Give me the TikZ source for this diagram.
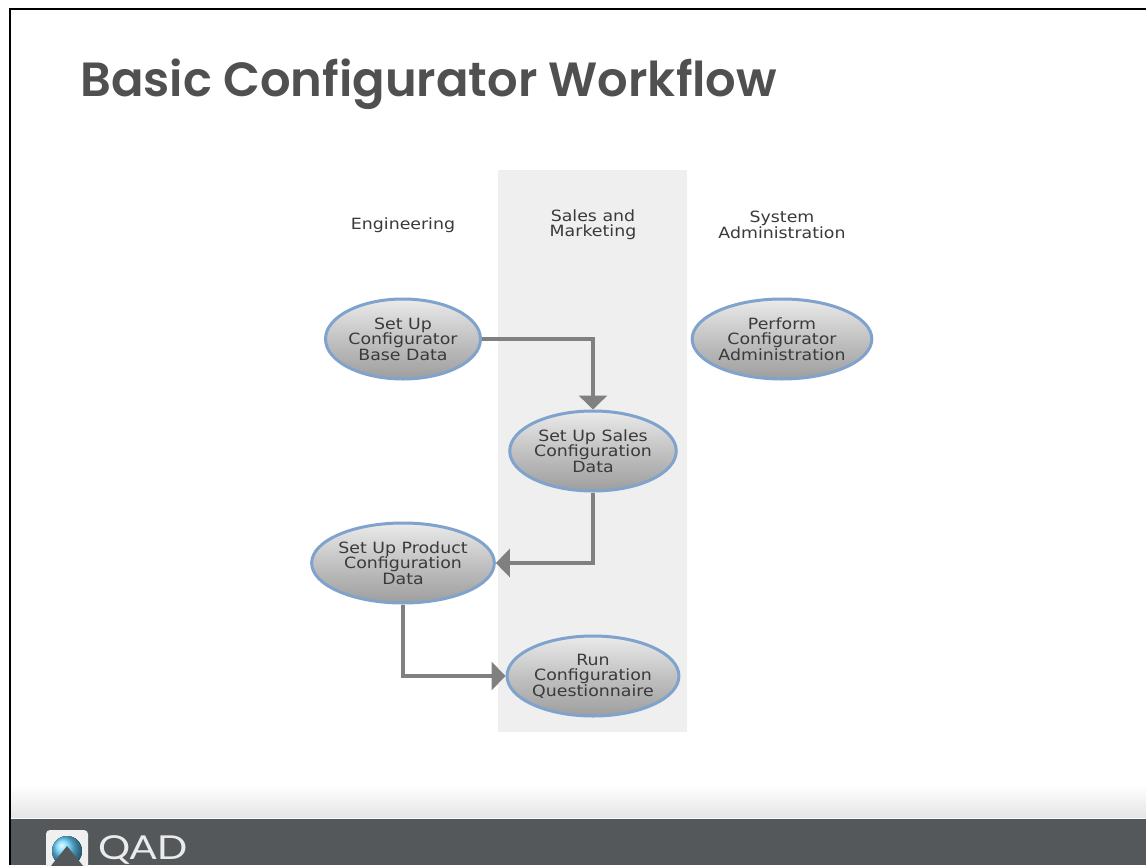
\documentclass[tikz,border=0pt]{standalone}
\usepackage{fontspec}
\setmainfont{DejaVu Sans}
\newfontfamily\titlefont[BoldFont=Poppins SemiBold]{Poppins}
\newfontfamily\bodyfont[FakeStretch=1.12]{DejaVu Sans}
\newfontfamily\logofont[FakeStretch=1.22]{Lato}
\usetikzlibrary{shapes.geometric,arrows.meta}
\definecolor{darkbar}{HTML}{54585B}
\definecolor{titlegray}{HTML}{505050}
\definecolor{laneg}{HTML}{EFEFEF}
\definecolor{linegray}{HTML}{808080}
\definecolor{ringblue}{HTML}{7FA3CC}
\definecolor{txt}{HTML}{3A3A3A}
\tikzset{
  px/.style={x=1pt,y=-1pt},
  flownode/.style={ellipse,draw=ringblue,line width=3pt,minimum width=155pt,minimum height=80pt,inner sep=0pt,
    top color=white!92!black,bottom color=white!62!black,middle color=white!76!black,
    font=\bodyfont\fontsize{15.5}{15.4}\selectfont,text=txt,align=center},
  lanelabel/.style={font=\bodyfont\fontsize{15.5}{15.4}\selectfont,text=txt,align=center},
  conn/.style={draw=linegray,line width=3.2pt,-{Triangle[width=28pt,length=14pt,color=linegray]}},
}
\begin{document}
\begin{tikzpicture}[px]
\useasboundingbox (0,0) rectangle (1146,865);
\fill[white] (0,0) rectangle (1146,865);
\clip (0,0) rectangle (1146,865);
% slide frame and footer
\fill[top color=white,bottom color=white!90!black] (11,785) rectangle (1146,817);
\fill[darkbar] (11,819) rectangle (1146,865);
\draw[black,line width=2.6pt] (10,865) -- (10,9) -- (1146,9);
\node[anchor=base west,font=\titlefont\bfseries\fontsize{48}{52}\selectfont,text=titlegray,inner sep=0pt] (title) at (80,96) {Basic Configurator Workflow};
% lane
\fill[laneg] (498,170) rectangle (687,732);
\node[lanelabel] (eng) at (403,225) {Engineering};
\node[lanelabel] (sales) at (593,225) {Sales and\\Marketing};
\node[lanelabel] (sys) at (782,225) {System\\Administration};
% nodes
\node[flownode] (base) at (403,339) {Set Up\\Configurator\\Base Data};
\node[flownode] (admin) at (782,339) {Perform\\Configurator\\Administration};
\node[flownode] (salesdata) at (593,451) {Set Up Sales\\Configuration\\Data};
\node[flownode] (product) at (403,563) {Set Up Product\\Configuration\\Data};
\node[flownode] (run) at (593,676) {Run\\Configuration\\Questionnaire};
% connectors
\draw[conn] (base.east) -| (salesdata.north);
\draw[conn] (salesdata.south) |- (product.east);
\draw[conn] (product.south) |- (run.west);
% logo
\fill[white!94!black,rounded corners=4pt] (46,830) rectangle (88,875);
\fill[ball color=blue!40!cyan!75!black!70!white] (67,851) circle (15);
\shade[ball color=blue!30!cyan!60!white] (67,851) circle (15);
\fill[darkbar] (67,846) -- (88,872) -- (46,872) -- cycle;
\node[anchor=base west,font=\logofont\fontsize{33}{36}\selectfont,text=white!92!black,inner sep=0pt] (qad) at (98,859) {QAD};
\end{tikzpicture}
\end{document}
